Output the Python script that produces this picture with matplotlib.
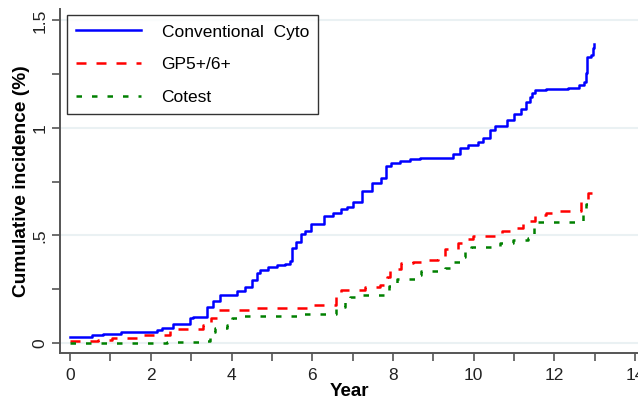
import matplotlib
matplotlib.use('Agg')
import matplotlib.pyplot as plt
from matplotlib.ticker import MultipleLocator

plt.rcParams['font.family'] = ['Liberation Sans', 'DejaVu Sans']

# cumulative incidence step curves (year, %)
cyto_t = [0, 0.54, 0.82, 1.25, 2.15, 2.27, 2.56, 2.97, 3.05, 3.38, 3.55, 3.71,
          4.13, 4.33, 4.5, 4.62, 4.7, 4.91, 5.12, 5.32, 5.45, 5.5, 5.6, 5.73,
          5.82, 5.96, 6.29, 6.52, 6.72, 6.85, 7.01, 7.22, 7.49, 7.71, 7.82,
          7.96, 8.17, 8.43, 8.66, 9.49, 9.65, 9.86, 10.1, 10.23, 10.4, 10.52,
          10.82, 11.01, 11.16, 11.3, 11.39, 11.45, 11.53, 11.8, 12.33, 12.62,
          12.72, 12.77, 12.8, 12.91, 12.95, 12.97]
cyto_y = [0.028, 0.036, 0.042, 0.053, 0.06, 0.068, 0.088, 0.115, 0.122, 0.169,
          0.197, 0.223, 0.243, 0.262, 0.293, 0.324, 0.34, 0.352, 0.36, 0.366,
          0.381, 0.44, 0.467, 0.505, 0.522, 0.551, 0.591, 0.606, 0.622, 0.634,
          0.653, 0.708, 0.745, 0.769, 0.823, 0.836, 0.847, 0.854, 0.86, 0.879,
          0.905, 0.919, 0.936, 0.952, 0.988, 1.011, 1.037, 1.065, 1.087, 1.122,
          1.146, 1.164, 1.177, 1.183, 1.186, 1.2, 1.215, 1.257, 1.332, 1.34,
          1.371, 1.39]

gp_t = [0, 0.7, 1.03, 1.81, 2.48, 3.3, 3.5, 3.67, 4.54, 5.94, 6.6, 6.72, 7.3,
        7.67, 7.84, 7.92, 8.21, 8.5, 8.79, 9.12, 9.28, 9.61, 9.86, 9.98, 10.69,
        11.06, 11.22, 11.53, 11.8, 12.09, 12.67, 12.75, 12.83, 12.93]
gp_y = [0.011, 0.014, 0.022, 0.037, 0.066, 0.084, 0.115, 0.153, 0.16, 0.177,
        0.239, 0.246, 0.259, 0.27, 0.308, 0.344, 0.372, 0.378, 0.384, 0.401,
        0.436, 0.464, 0.482, 0.496, 0.52, 0.533, 0.569, 0.595, 0.603, 0.614,
        0.653, 0.665, 0.696, 0.72]

co_t = [0, 2.39, 3.34, 3.47, 3.59, 3.88, 4.0, 4.17, 5.69, 6.6, 6.81, 6.93,
        7.26, 7.82, 7.9, 8.09, 8.58, 8.7, 9.28, 9.41, 9.65, 9.78, 9.94, 10.64,
        10.97, 11.34, 11.5, 12.7, 12.77, 12.98]
co_y = [0.0, 0.006, 0.011, 0.053, 0.068, 0.084, 0.115, 0.126, 0.133, 0.166,
        0.203, 0.215, 0.223, 0.246, 0.265, 0.296, 0.316, 0.335, 0.35, 0.378,
        0.399, 0.425, 0.448, 0.464, 0.479, 0.488, 0.564, 0.6, 0.645, 0.662]

fig = plt.figure(figsize=(6.38, 4.01), dpi=100)
ax = fig.add_axes([60 / 638, 48 / 401, 578 / 638, 344 / 401])

ax.plot(cyto_t, cyto_y, drawstyle='steps-post', color='#0000ff', lw=1.8,
        label='Conventional  Cyto')
ax.plot(gp_t, gp_y, drawstyle='steps-post', color='#ff0000', lw=1.8,
        dashes=(4, 4), label='GP5+/6+')
ax.plot(co_t, co_y, drawstyle='steps-post', color='#008000', lw=1.8,
        dashes=(2.2, 4), label='Cotest')

ax.set_xlim(-0.25, 14.07)
ax.set_ylim(-0.047, 1.553)

for v in [0, 0.5, 1, 1.5]:
    ax.axhline(v, color='#eaf1f3', lw=1.5, zorder=0)

ax.xaxis.set_major_locator(MultipleLocator(2))
ax.xaxis.set_minor_locator(MultipleLocator(1))
ax.yaxis.set_major_locator(MultipleLocator(0.5))
ax.yaxis.set_minor_locator(MultipleLocator(0.25))
ax.set_yticks([0, 0.5, 1, 1.5])
ax.set_yticklabels(['0', '.5', '1', '1.5'], rotation=90, va='center')

ax.tick_params(which='both', direction='out', color='#555555', width=1.2,
               length=6, labelsize=12.5, labelcolor='#222222')
ax.tick_params(axis='y', pad=3)
ax.tick_params(axis='x', pad=5)

for side in ['top', 'right']:
    ax.spines[side].set_visible(False)
for side in ['left', 'bottom']:
    ax.spines[side].set_color('#555555')
    ax.spines[side].set_linewidth(1.4)

ax.set_xlabel('Year', fontsize=13.5, fontweight='bold', labelpad=0)
ax.set_ylabel('Cumulative incidence (%)', fontsize=13.8, fontweight='bold',
              labelpad=2)

leg = ax.legend(loc='upper left', bbox_to_anchor=(0.012, 0.983), fontsize=12.5,
                frameon=True, fancybox=False, edgecolor='black',
                handlelength=3.7, handletextpad=1.2, labelspacing=1.0,
                borderpad=0.55, borderaxespad=0)
leg.get_frame().set_linewidth(1.0)

fig.savefig('out.png', dpi=100)
